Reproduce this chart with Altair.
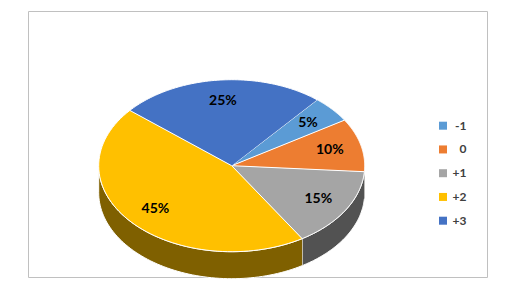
import altair as alt
import pandas as pd

# ---- data ----
categories = ["-1", "0", "+1", "+2", "+3"]
values = [5, 10, 15, 45, 25]

# ---- styles ----
top_colors = ["#5B9BD5", "#ED7D31", "#A5A5A5", "#FFC000", "#4472C4"]
side_colors = ["#2E4E6B", "#773F18", "#525252", "#7F6000", "#223962"]

START_DEG = 40      # rotation of the first slice (clockwise from 12 o'clock)
STEPS = 72          # points per arc
DEPTH = 0.314       # pie thickness, in units of the vertical radius
LABEL_R = 0.76      # label distance from centre (fraction of radius)

W, H = 459, 266                 # plot area = chart border
CX, CY = 203.7, 154.7           # ellipse centre inside plot area
RX, RY = 133.0, 86.0            # ellipse radii

df = pd.DataFrame({"idx": list(range(len(categories))),
                   "category": categories, "value": values})
legend_df = pd.DataFrame({"category": categories})

x_scale = alt.Scale(domain=[-CX / RX, (W - CX) / RX], range=[0, W], nice=False, zero=False)
y_scale = alt.Scale(domain=[-(H - CY) / RY, CY / RY], range=[H, 0], nice=False, zero=False)

base = alt.Chart(df).transform_window(
    cum="sum(value)", sort=[alt.SortField("idx")], frame=[None, 0]
).transform_joinaggregate(
    total="sum(value)"
).transform_calculate(
    a0=f"{START_DEG} + 360 * (datum.cum - datum.value) / datum.total",
    a1=f"{START_DEG} + 360 * datum.cum / datum.total",
)

pos = dict(
    x=alt.X("px:Q", scale=x_scale, axis=None),
    y=alt.Y("py:Q", scale=y_scale, axis=None),
)

# side walls (visible front half: 90..270 degrees)
sides = base.transform_calculate(
    s0="max(datum.a0, 90)",
    s1="min(datum.a1, 270)",
).transform_filter(
    "datum.s1 > datum.s0"
).transform_calculate(
    k=f"sequence(0, {2 * (STEPS + 1)})"
).transform_flatten(
    ["k"]
).transform_calculate(
    ang=(f"(datum.k <= {STEPS} ? datum.s0 + (datum.s1 - datum.s0) * datum.k / {STEPS}"
         f" : datum.s1 - (datum.s1 - datum.s0) * (datum.k - {STEPS + 1}) / {STEPS}) * PI / 180"),
    px="sin(datum.ang)",
    py=f"cos(datum.ang) - (datum.k > {STEPS} ? {DEPTH} : 0)",
).mark_line(
    filled=True, stroke="white", strokeWidth=1, strokeJoin="round"
).encode(
    order="k:Q",
    color=alt.Color("category:N", scale=alt.Scale(domain=categories, range=side_colors), legend=None),
    **pos,
)

# top faces
tops = base.transform_calculate(
    k=f"sequence(0, {STEPS + 2})"
).transform_flatten(
    ["k"]
).transform_calculate(
    ang=f"(datum.a0 + (datum.a1 - datum.a0) * (datum.k - 1) / {STEPS}) * PI / 180",
    px="datum.k == 0 ? 0 : sin(datum.ang)",
    py="datum.k == 0 ? 0 : cos(datum.ang)",
).mark_line(
    filled=True, stroke="white", strokeWidth=1, strokeJoin="round"
).encode(
    order="k:Q",
    color=alt.Color("category:N", scale=alt.Scale(domain=categories, range=top_colors), legend=None),
    **pos,
)

labels = base.transform_calculate(
    mid="(datum.a0 + datum.a1) / 2 * PI / 180",
    px=f"{LABEL_R} * sin(datum.mid)",
    py=f"{LABEL_R} * cos(datum.mid)",
    pct="format(datum.value / datum.total, '.0%')",
).mark_text(
    font="Lato", fontWeight="bold", fontSize=14, color="black"
).encode(text="pct:N", **pos)

leg_y = alt.Y("category:N", axis=None,
              scale=alt.Scale(type="point", domain=categories, range=[114.7, 209.7], padding=0))

leg_sq = alt.Chart(legend_df).mark_square(size=64, opacity=1).encode(
    x=alt.value(415),
    y=leg_y,
    color=alt.Color("category:N", scale=alt.Scale(domain=categories, range=top_colors), legend=None),
)
leg_tx = alt.Chart(legend_df).mark_text(
    align="right", baseline="middle", font="Lato", fontSize=12, fontWeight="bold", color="#404040"
).encode(x=alt.value(438.5), y=leg_y, text="category:N")

chart = alt.layer(sides, tops, labels, leg_sq, leg_tx).resolve_scale(
    y="independent", color="independent"
).properties(
    width=W, height=H,
    padding={"left": 28, "top": 11, "right": 26, "bottom": 14},
    autosize=alt.AutoSizeParams(type="none"),
    background="white",
).configure_view(
    stroke="#C0C0C0", strokeWidth=1
)

chart.save("out.html", embed_options={"renderer": "svg", "actions": False})
